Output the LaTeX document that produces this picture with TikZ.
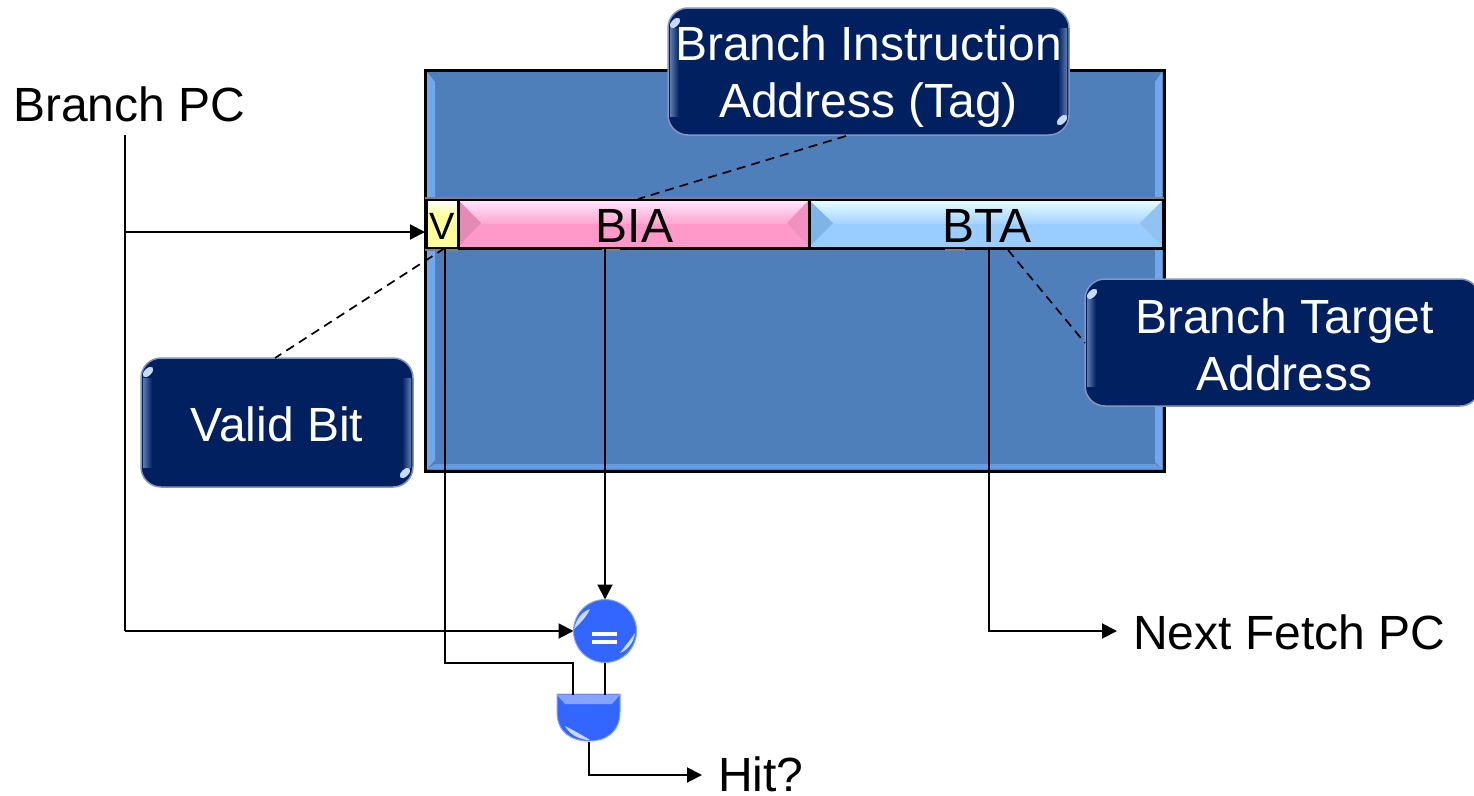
\documentclass[tikz,border=0pt]{standalone}
\usepackage{fontspec}
\setmainfont{Liberation Sans}
\usetikzlibrary{arrows.meta,positioning}
\definecolor{panelblue}{HTML}{4F7FBA}
\definecolor{panellight}{HTML}{6FA8EC}
\definecolor{navy}{HTML}{002060}
\definecolor{navyedge}{HTML}{8496BC}
\definecolor{navylight}{HTML}{5F7BAE}
\definecolor{pinkbar}{HTML}{FF99C9}
\definecolor{pinkdark}{HTML}{E48BB5}
\definecolor{pinktop}{HTML}{FFE6FF}
\definecolor{bluebar}{HTML}{99CCFF}
\definecolor{bluedark}{HTML}{7FB5E6}
\definecolor{bluetop}{HTML}{E6FFFF}
\definecolor{yellowbar}{HTML}{FFFF99}
\definecolor{gateblue}{HTML}{3366FF}
\definecolor{glint}{HTML}{C8DAFF}
\tikzset{
  x=1pt,y=-1pt,
  lbl/.style={font=\fontsize{48}{57}\selectfont,inner sep=0pt,outer sep=0pt,align=center},
  callout/.style={draw=navyedge,line width=1.5pt,fill=navy,rounded corners=20pt,inner sep=0pt,outer sep=0pt,minimum width=#1},
  calltext/.style={lbl,text=white},
  conn/.style={draw=black,line width=2pt},
  arr/.style={conn,-{Triangle[length=15pt,width=15pt]}},
  lead/.style={draw=black,line width=1.7pt,dash pattern=on 9pt off 6pt},
  cell/.style={draw=black,line width=3pt,inner sep=0pt,outer sep=0pt,anchor=north west},
  strip/.style={left color=navylight,right color=navy,draw=none},
  stripr/.style={left color=navy,right color=navylight,draw=none},
  spark/.style={fill=glint,draw=none}
}
\begin{document}
\begin{tikzpicture}
\useasboundingbox (0,0) rectangle (1474,795);
% panel
\fill[panelblue] (426,71) rectangle (1163,470);
\fill[panellight] (427,72) -- (435,82) -- (435,460) -- (427,469) -- cycle;
\fill[panellight] (1162,72) -- (1155,82) -- (1155,462) -- (1162,469) -- cycle;
\fill[panellight!70!panelblue] (427,469) -- (435,464) -- (1155,464) -- (1162,469) -- cycle;
\node[draw=black,line width=3pt,minimum width=739pt,minimum height=401pt,inner sep=0pt,outer sep=0pt,anchor=north west] (panel) at (425,70) {};
% row cells
\node[cell,fill=yellowbar,minimum width=32pt,minimum height=49pt] (vcell) at (426,199) {};
\node[cell,fill=pinkbar,minimum width=351pt,minimum height=49pt] (biacell) at (458,199) {};
\node[cell,fill=bluebar,minimum width=354pt,minimum height=49pt] (btacell) at (809,199) {};
% gloss on the cells
\shade[top color=white,bottom color=yellowbar] (427,200) rectangle (457,216);
\shade[top color=pinktop,bottom color=pinkbar!85!white] (459,200) rectangle (808,223);
\shade[top color=bluetop,bottom color=bluebar!85!white] (810,200) rectangle (1162,223);
\fill[pinkdark] (459,201) -- (481,223) -- (459,246) -- cycle;
\fill[pinkbar!95!black] (808,201) -- (787,223) -- (808,246) -- cycle;
\fill[bluedark] (810,201) -- (833,223) -- (810,246) -- cycle;
\fill[bluebar!95!black] (1162,201) -- (1140,223) -- (1162,246) -- cycle;
\draw[black,line width=3pt] (vcell.north west) rectangle (vcell.south east);
\draw[black,line width=3pt] (biacell.north west) rectangle (biacell.south east);
\draw[black,line width=3pt] (btacell.north west) rectangle (btacell.south east);
\draw[gray,line width=1.5pt] (425,198) -- (1164,198);
\draw[gray,line width=1.5pt] (425,250) -- (458,250);
\draw[gray,line width=1.5pt] (602,250) -- (620,250);
\draw[gray,line width=1.5pt] (945,250) -- (965,250);
\node[font=\fontsize{38}{44}\selectfont,inner sep=0pt] (vtext) at (442,226) {V};
\node[lbl] (biatext) at (634.5,226) {BIA};
\node[lbl] (btatext) at (987,226) {BTA};
% callouts
\node[callout=401pt,minimum height=127pt,anchor=north west] (tagbox) at (668,8) {};
\node[callout=272pt,minimum height=129pt,anchor=north west] (validbox) at (141,358) {};
\node[callout=395pt,minimum height=127pt,anchor=north west] (btabox) at (1085,279) {};
% callout bevels
\shade[strip] (670,28) rectangle (679,116);
\shade[stripr] (1058,28) rectangle (1067,116);
\shade[strip] (143,378) rectangle (152,467);
\shade[stripr] (402,378) rectangle (411,467);
\shade[strip] (1087,299) rectangle (1096,386);
% corner glints
\foreach \gx/\gy in {675/23, 1062/120, 148/372, 405/473, 1092/294}
  \fill[spark] (\gx,\gy) ellipse[x radius=6.5pt,y radius=3.5pt,rotate=45];
% callout texts
\node[calltext] (tagtext) at (868.5,77) {Branch Instruction\\Address (Tag)};
\node[calltext] (validtext) at (277,424) {Valid Bit};
\node[calltext] (btatext2) at (1284.5,345) {Branch Target\\Address};
% plain labels
\node[lbl,anchor=west] (pc) at (13,104) {Branch PC};
\node[lbl,anchor=west] (next) at (1133,632) {Next Fetch PC};
\node[lbl,anchor=base west] (hit) at (718,791) {Hit?};
% comparator and AND gate
\node[circle,fill=gateblue,draw=gateblue!60!white,line width=1pt,minimum size=63pt,inner sep=0pt,outer sep=0pt] (eq) at (605,631) {};
\fill[white] (592,632) rectangle (617,636);
\fill[white] (592,640) rectangle (617,644);
\fill[spark] (590,609) .. controls (581,612) and (576,620) .. (574,629) .. controls (579,624) and (586,618) .. (590,609) -- cycle;
\fill[spark] (620,653) .. controls (628,650) and (634,642) .. (635,633) .. controls (631,639) and (625,646) .. (620,653) -- cycle;
\node[minimum width=63pt,minimum height=48pt,inner sep=0pt,outer sep=0pt] (andg) at (588.5,718) {};
\fill[gateblue,draw=gateblue!60!white,line width=1pt] (557,694) -- (620,694) -- (620,712)
  .. controls (620,732) and (606,741) .. (589,741) .. controls (571,741) and (557,732) .. (557,712) -- cycle;
\fill[gateblue!60!white] (557,695) -- (620,695) -- (612,704) -- (565,704) -- cycle;
\fill[spark] (565,726) .. controls (570,735) and (580,740) .. (590,740) .. controls (582,735) and (573,730) .. (565,726) -- cycle;
% junctions and bends
\coordinate (pcstart) at (125,135);
\coordinate (pctap) at (125,232);
\coordinate (vin) at (425,232);
\coordinate (pcbend) at (125,631);
\coordinate (vout) at (445,248);
\coordinate (vbend1) at (445,663);
\coordinate (vbend2) at (573,663);
\coordinate (and1) at (573,695);
\coordinate (and2) at (605,695);
\coordinate (andout) at (589,742);
\coordinate (hitbend) at (589,775);
\coordinate (hitend) at (702,775);
\coordinate (btaout) at (989,248);
\coordinate (btabend) at (989,631);
\coordinate (nextend) at (1117,631);
\coordinate (biaout) at (605,248);
\coordinate (tagfoot) at (846,136);
\coordinate (tagtip) at (638,199);
\coordinate (validfoot) at (275,358);
\coordinate (validtip) at (445,248);
\coordinate (btafoot) at (1085,343);
\coordinate (btatip) at (1008,250);
% connectors
\draw[conn] (pcstart) -- (pcbend);
\draw[arr] (pctap) -- (vin);
\draw[arr] (pcbend) -- (eq.west);
\draw[arr] (biaout) -- (eq.north);
\draw[conn] (eq.south) -- (and2);
\draw[conn] (vout) -- (vbend1) -- (vbend2) -- (and1);
\draw[arr] (andout) -- (hitbend) -- (hitend);
\draw[arr] (btaout) -- (btabend) -- (nextend);
\draw[lead] (tagfoot) -- (tagtip);
\draw[lead] (validtip) -- (validfoot);
\draw[lead] (btatip) -- (btafoot);
\end{tikzpicture}
\end{document}
